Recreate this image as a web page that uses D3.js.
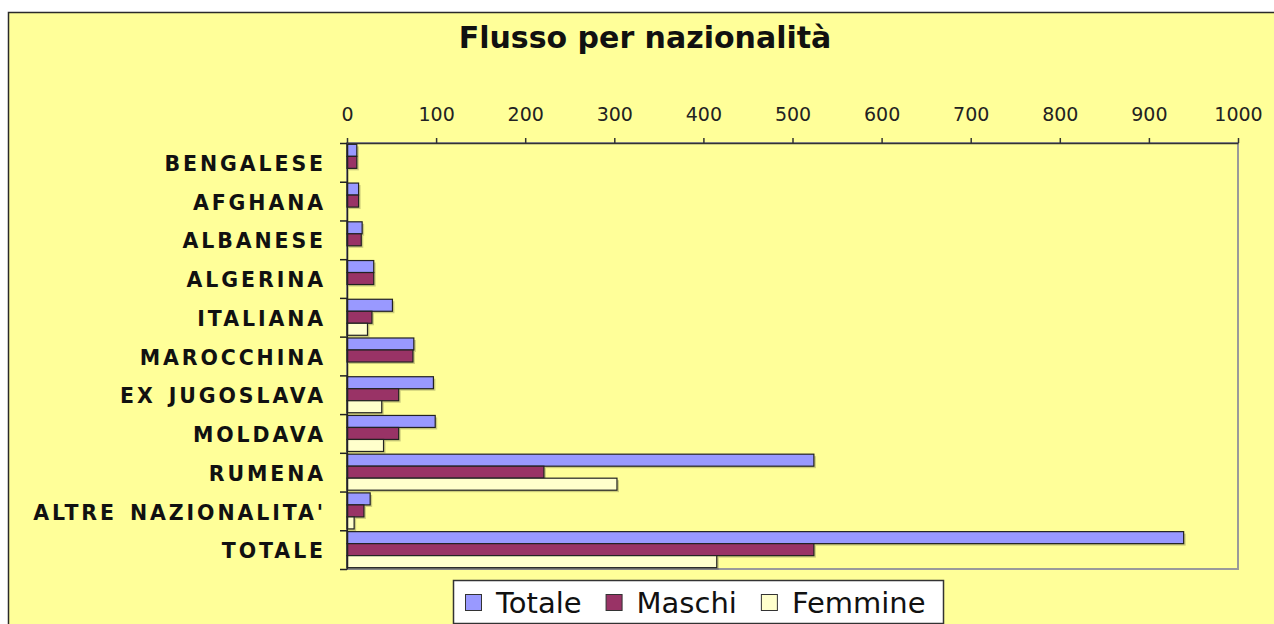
<!DOCTYPE html>
<html>
<head>
<meta charset="utf-8">
<script src="https://cdn.jsdelivr.net/npm/d3@7"></script>
<style>
  body { margin: 0; background: #fff; }
  svg { display: block; font-family: 'DejaVu Sans', Verdana, sans-serif; }
</style>
</head>
<body>
<div id="chart"></div>
<script>
let categories = [
  'BENGALESE',
  'AFGHANA',
  'ALBANESE',
  'ALGERINA',
  'ITALIANA',
  'MAROCCHINA',
  'EX JUGOSLAVA',
  'MOLDAVA',
  'RUMENA',
  "ALTRE NAZIONALITA'",
  'TOTALE'
]
let seriesNames = ['Totale', 'Maschi', 'Femmine']
let totale = [11, 13, 17, 30, 51, 75, 97, 99, 524, 26, 939]
let maschi = [11, 13, 16, 30, 28, 74, 58, 58, 221, 19, 524]
let femmine = [0, 0, 0, 0, 23, 0, 39, 41, 303, 8, 415]
let xTicks = [0, 100, 200, 300, 400, 500, 600, 700, 800, 900, 1000]

let colors = { Totale: '#9999ff', Maschi: '#993366', Femmine: '#ffffcc' }

let fullWidth = 1274
let fullHeight = 624
let margin = { top: 143, left: 347, right: 36, bottom: 55 }
let width = fullWidth - margin.left - margin.right
let height = fullHeight - margin.top - margin.bottom

let root = d3
  .select('#chart')
  .append('svg')
  .attr('width', fullWidth)
  .attr('height', fullHeight)

// outer chart frame
root
  .append('rect')
  .attr('x', 8.5)
  .attr('y', 12.5)
  .attr('width', 1320)
  .attr('height', 700)
  .attr('fill', '#ffff99')
  .attr('stroke', '#2a2a2a')
  .attr('stroke-width', 1.5)

root
  .append('text')
  .attr('x', 645)
  .attr('y', 48)
  .attr('text-anchor', 'middle')
  .attr('font-size', 30)
  .attr('font-weight', 'bold')
  .attr('fill', '#111')
  .text('Flusso per nazionalità')

let svg = root
  .append('g')
  .attr('transform', `translate(${margin.left}, ${margin.top})`)

let xPositionScale = d3.scaleLinear().domain([0, 1000]).range([0, width])
let yBand = d3
  .scaleBand()
  .domain(categories)
  .range([0, height])
  .paddingInner(0.07)
  .paddingOuter(0.035)
let yInner = d3
  .scaleBand()
  .domain(seriesNames)
  .range([0, yBand.bandwidth()])
let yIndex = d3.scaleLinear().domain([0, categories.length]).range([0, height])

// plot area border (gray right/bottom)
svg
  .append('rect')
  .attr('x', 0)
  .attr('y', 0)
  .attr('width', width)
  .attr('height', height)
  .attr('fill', 'none')
  .attr('stroke', '#9a9a9a')
  .attr('stroke-width', 2)

let rows = categories.map((c, i) => ({
  name: c,
  values: [
    { key: 'Totale', value: totale[i] },
    { key: 'Maschi', value: maschi[i] },
    { key: 'Femmine', value: femmine[i] }
  ]
}))

let groups = svg
  .selectAll('.row')
  .data(rows)
  .enter()
  .append('g')
  .attr('class', 'row')
  .attr('transform', d => `translate(0, ${yBand(d.name)})`)

// soft shadow behind bars
groups
  .selectAll('.shadow')
  .data(d => d.values.filter(v => v.value > 0))
  .enter()
  .append('rect')
  .attr('class', 'shadow')
  .attr('x', 2)
  .attr('y', d => yInner(d.key) + 2)
  .attr('width', d => xPositionScale(d.value))
  .attr('height', yInner.bandwidth())
  .attr('fill', '#000')
  .attr('opacity', 0.2)

groups
  .selectAll('.bar')
  .data(d => d.values.filter(v => v.value > 0))
  .enter()
  .append('rect')
  .attr('class', 'bar')
  .attr('x', 0)
  .attr('y', d => yInner(d.key))
  .attr('width', d => xPositionScale(d.value))
  .attr('height', yInner.bandwidth())
  .attr('fill', d => colors[d.key])
  .attr('stroke', '#222')
  .attr('stroke-width', 1.2)

let xAxis = d3
  .axisTop(xPositionScale)
  .tickValues(xTicks)
  .tickFormat(d3.format('d'))
  .tickSize(5)
  .tickSizeOuter(0)
  .tickPadding(17)
svg
  .append('g')
  .attr('class', 'axis x-axis')
  .call(xAxis)
svg
  .select('.x-axis')
  .selectAll('text')
  .attr('font-size', 19)
  .attr('font-family', "'DejaVu Sans', Verdana, sans-serif")
  .attr('fill', '#222')
svg
  .select('.x-axis')
  .selectAll('line, path')
  .attr('stroke', '#333')
  .attr('stroke-width', 1.5)

let yTickAxis = d3
  .axisLeft(yIndex)
  .tickValues(d3.range(categories.length + 1))
  .tickFormat('')
  .tickSize(7)
  .tickSizeOuter(0)
svg
  .append('g')
  .attr('class', 'axis y-axis')
  .call(yTickAxis)
svg
  .select('.y-axis')
  .selectAll('line, path')
  .attr('stroke', '#222')
  .attr('stroke-width', 1.5)

let yLabelAxis = d3.axisLeft(yBand).tickSize(0).tickPadding(21)
let yLabels = svg.append('g').attr('class', 'axis y-labels').call(yLabelAxis)
yLabels.select('.domain').remove()
yLabels
  .selectAll('text')
  .attr('dy', '0.42em')
  .attr('font-size', 20.5)
  .attr('font-weight', 'bold')
  .attr('font-family', "'DejaVu Sans', Verdana, sans-serif")
  .attr('letter-spacing', 2.9)
  .attr('word-spacing', 3)
  .attr('fill', '#111')

// legend
let legend = root.append('g').attr('transform', 'translate(453, 580)')
legend
  .append('rect')
  .attr('x', 0.5)
  .attr('y', 0.5)
  .attr('width', 490)
  .attr('height', 43)
  .attr('fill', '#fff')
  .attr('stroke', '#333')
  .attr('stroke-width', 1.5)

let cursor = 12
seriesNames.forEach(name => {
  legend
    .append('rect')
    .attr('x', cursor + 0.5)
    .attr('y', 14.5)
    .attr('width', 16)
    .attr('height', 16)
    .attr('fill', colors[name])
    .attr('stroke', '#333')
    .attr('stroke-width', 1)
  let t = legend
    .append('text')
    .attr('x', cursor + 31)
    .attr('y', 33)
    .attr('font-size', 29)
    .attr('fill', '#111')
    .text(name)
  cursor = cursor + 31 + t.node().getComputedTextLength() + 24
})
</script>
</body>
</html>
